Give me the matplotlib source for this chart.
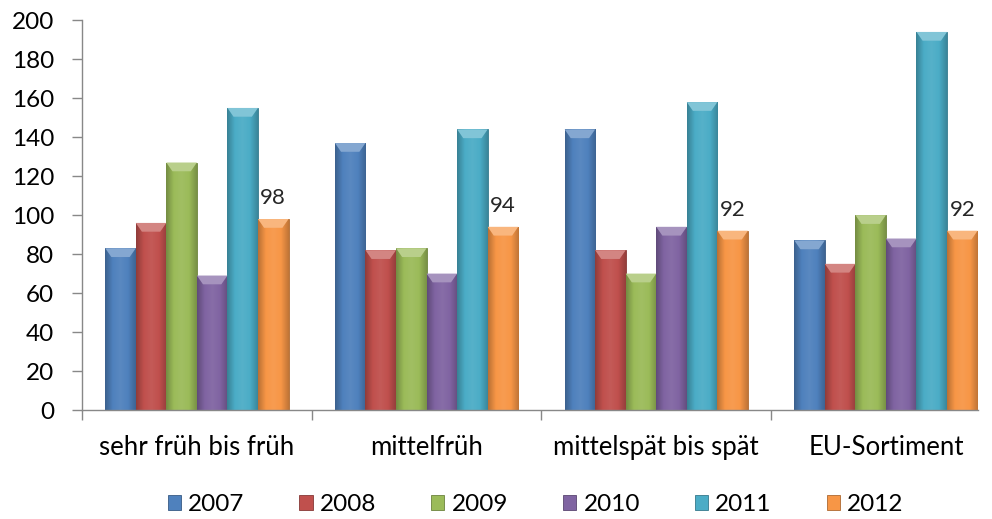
import numpy as np
import matplotlib
matplotlib.use('Agg')
import matplotlib.pyplot as plt
from matplotlib.colors import LinearSegmentedColormap, to_rgb
from matplotlib.patches import Polygon, Patch

plt.rcParams['font.family'] = ['Lato', 'DejaVu Sans']

categories = ['sehr früh bis früh', 'mittelfrüh', 'mittelspät bis spät', 'EU-Sortiment']
years = ['2007', '2008', '2009', '2010', '2011', '2012']
values = {
    '2007': [83, 137, 144, 87],
    '2008': [96, 82, 82, 75],
    '2009': [127, 83, 70, 100],
    '2010': [69, 70, 94, 88],
    '2011': [155, 144, 158, 194],
    '2012': [98, 94, 92, 92],
}
labelled = '2012'
colors = ['#4F81BD', '#C0504D', '#9BBB59', '#8064A2', '#4BACC6', '#F79646']


def shade(c, f):
    r = np.array(to_rgb(c))
    if f < 1:
        return tuple(r * f)
    return tuple(r + (1 - r) * (f - 1))


def bevel_bar(ax, bar, color):
    # horizontal gradient + light top cap, roughly like the Office bevel style
    x, w, h = bar.get_x(), bar.get_width(), bar.get_height()
    cmap = LinearSegmentedColormap.from_list(
        'g', [shade(color, 0.75), shade(color, 1.0), shade(color, 1.06),
              shade(color, 1.0), shade(color, 0.78)])
    grad = np.linspace(0, 1, 64).reshape(1, -1)
    im = ax.imshow(grad, cmap=cmap, extent=(x, x + w, 0, h), aspect='auto',
                   origin='lower', zorder=2)
    im.set_clip_path(bar)
    cap = 4.5
    inset = w * 0.2
    top = Polygon([(x, h), (x + w, h), (x + w - inset, h - cap), (x + inset, h - cap)],
                  closed=True, facecolor=shade(color, 1.3), edgecolor='none', zorder=3)
    ax.add_patch(top)


fig = plt.figure(figsize=(9.92, 5.19), dpi=100)
ax = fig.add_axes([0.0827, 0.210, 0.903, 0.751])

n = len(years)
width = 0.133
x = np.arange(len(categories))
for i, (yr, col) in enumerate(zip(years, colors)):
    offs = (i - (n - 1) / 2) * width
    bars = ax.bar(x + offs, values[yr], width, color=col,
                  edgecolor=shade(col, 0.7), linewidth=0.6, zorder=2)
    for b in bars:
        bevel_bar(ax, b, col)
    if yr == labelled:
        for b, v in zip(bars, values[yr]):
            ax.annotate(f'{v}', (b.get_x() + b.get_width() / 2, v),
                        xytext=(0, 8), textcoords='offset points',
                        ha='center', va='bottom', fontsize=16, color='#262626')

ax.set_xlim(-0.5, 3.4)
ax.set_ylim(0, 200)
ax.set_yticks(range(0, 201, 20))
ax.set_xticks(x)
ax.set_xticklabels(categories, fontsize=18.5)
ax.set_xticks([-0.5, 0.5, 1.5, 2.5], minor=True)
ax.tick_params(axis='x', which='major', length=0, pad=18)
ax.tick_params(axis='x', which='minor', length=7, width=1, color='#888888', direction='out')
ax.tick_params(axis='y', labelsize=17.5, length=7, width=1, color='#888888', pad=13)

for s in ['top', 'right']:
    ax.spines[s].set_visible(False)
for s in ['left', 'bottom']:
    ax.spines[s].set_color('#888888')
    ax.spines[s].set_linewidth(1)

handles = [Patch(facecolor=c, edgecolor=shade(c, 0.7), linewidth=0.6) for c in colors]
fig.legend(handles, years, loc='center', bbox_to_anchor=(0.54, 0.028), ncol=6,
           frameon=False, fontsize=17.5, handlelength=0.55, handleheight=0.55,
           handletextpad=0.3, columnspacing=2.25)

fig.savefig('out.png', dpi=100, facecolor='white')
